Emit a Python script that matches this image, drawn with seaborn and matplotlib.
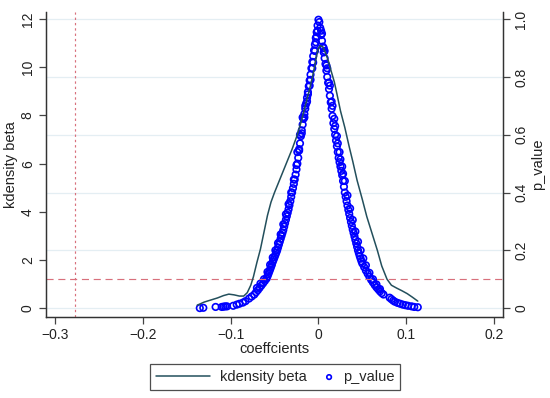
import numpy as np
import pandas as pd
import matplotlib
matplotlib.use('Agg')
import matplotlib.pyplot as plt
import seaborn as sns
from matplotlib.legend_handler import HandlerPathCollection

# kdensity beta (koefisyan, dansite)
kd_beta = [-0.138, -0.130, -0.123, -0.115, -0.108, -0.102, -0.096, -0.090, -0.085, -0.081,
           -0.077, -0.074, -0.070, -0.066, -0.062, -0.058, -0.054, -0.050, -0.045, -0.040,
           -0.035, -0.030, -0.025, -0.020, -0.015, -0.010, -0.005, -0.002, 0.000, 0.002,
           0.005, 0.008, 0.011, 0.014, 0.018, 0.021, 0.025, 0.030, 0.035, 0.039,
           0.044, 0.050, 0.055, 0.061, 0.067, 0.072, 0.078, 0.083, 0.089, 0.095,
           0.101, 0.107, 0.113]
kd_dens = [0.12, 0.25, 0.33, 0.42, 0.52, 0.58, 0.55, 0.50, 0.50, 0.64,
           0.95, 1.30, 1.90, 2.45, 3.15, 3.85, 4.40, 4.80, 5.25, 5.70,
           6.15, 6.60, 7.10, 7.70, 8.40, 9.10, 9.90, 10.5, 10.8, 10.9,
           10.85, 10.6, 10.3, 9.9, 9.4, 8.9, 8.2, 7.5, 6.7, 6.1,
           5.3, 4.5, 3.8, 3.1, 2.4, 1.75, 1.20, 0.95, 0.83, 0.72,
           0.60, 0.45, 0.29]

# p_value kote goch
left_beta = [-0.135, -0.131, -0.117, -0.110, -0.108, -0.106, -0.104, -0.097, -0.093, -0.090,
             -0.086, -0.083, -0.079, -0.076, -0.073, -0.071, -0.069, -0.067, -0.065, -0.063,
             -0.061, -0.059, -0.058, -0.057, -0.056, -0.055, -0.054, -0.053, -0.052, -0.051,
             -0.050, -0.049, -0.048, -0.047, -0.046, -0.045, -0.044, -0.043, -0.042, -0.041,
             -0.040, -0.039, -0.038, -0.037, -0.036, -0.035, -0.034, -0.033, -0.032, -0.031,
             -0.030, -0.029, -0.028, -0.027, -0.026, -0.025, -0.024, -0.023, -0.022, -0.021,
             -0.020, -0.019, -0.018, -0.017, -0.016, -0.015, -0.014, -0.013, -0.012, -0.011,
             -0.010, -0.009, -0.008, -0.007, -0.006, -0.005, -0.004, -0.003, -0.002, -0.001,
             0.000]
left_p = [0.000, 0.001, 0.004, 0.004, 0.005, 0.006, 0.006, 0.008, 0.012, 0.015,
          0.019, 0.024, 0.033, 0.040, 0.047, 0.055, 0.062, 0.070, 0.078, 0.086,
          0.094, 0.102, 0.110, 0.118, 0.126, 0.134, 0.142, 0.150, 0.160, 0.168,
          0.176, 0.184, 0.192, 0.200, 0.210, 0.220, 0.230, 0.240, 0.250, 0.260,
          0.270, 0.282, 0.294, 0.306, 0.318, 0.330, 0.342, 0.356, 0.370, 0.385,
          0.400, 0.415, 0.430, 0.445, 0.462, 0.480, 0.500, 0.520, 0.545, 0.570,
          0.595, 0.615, 0.635, 0.655, 0.672, 0.690, 0.708, 0.728, 0.748, 0.768,
          0.788, 0.808, 0.830, 0.852, 0.872, 0.892, 0.912, 0.935, 0.955, 0.978,
          0.998]
left_beta2 = [-0.070, -0.066, -0.062, -0.058, -0.055, -0.052, -0.049, -0.046, -0.043, -0.040,
              -0.037, -0.034, -0.031, -0.028, -0.025, -0.022, -0.019, -0.016, -0.013, -0.010,
              -0.007, -0.004, -0.002]
left_p2 = [0.070, 0.085, 0.100, 0.125, 0.150, 0.175, 0.200, 0.225, 0.255, 0.290,
           0.325, 0.360, 0.400, 0.445, 0.495, 0.550, 0.605, 0.660, 0.715, 0.770,
           0.830, 0.890, 0.940]
left_beta3 = [-0.024, -0.021, -0.018, -0.015, -0.012, -0.009, -0.006, -0.003, -0.001]
left_p3 = [0.540, 0.600, 0.660, 0.700, 0.740, 0.790, 0.850, 0.920, 0.960]

# p_value kote dwat
right_beta = [0.001, 0.002, 0.003, 0.004, 0.005, 0.006, 0.007, 0.008, 0.009, 0.010,
              0.011, 0.012, 0.013, 0.014, 0.015, 0.016, 0.017, 0.018, 0.019, 0.020,
              0.021, 0.022, 0.023, 0.024, 0.025, 0.026, 0.027, 0.028, 0.029, 0.030,
              0.031, 0.032, 0.033, 0.034, 0.035, 0.036, 0.037, 0.038, 0.039, 0.040,
              0.041, 0.042, 0.043, 0.044, 0.045, 0.046, 0.047, 0.048, 0.049, 0.050,
              0.052, 0.054, 0.056, 0.058, 0.060, 0.062, 0.064, 0.066, 0.068, 0.070,
              0.072, 0.074, 0.081, 0.083, 0.085, 0.087, 0.090, 0.093, 0.096, 0.099,
              0.102, 0.106, 0.109, 0.113]
right_p = [0.990, 0.970, 0.945, 0.925, 0.905, 0.885, 0.865, 0.845, 0.822, 0.800,
           0.780, 0.758, 0.735, 0.712, 0.690, 0.665, 0.640, 0.620, 0.600, 0.580,
           0.560, 0.540, 0.520, 0.505, 0.490, 0.475, 0.460, 0.440, 0.420, 0.400,
           0.385, 0.370, 0.355, 0.340, 0.326, 0.312, 0.298, 0.285, 0.272, 0.260,
           0.248, 0.236, 0.224, 0.212, 0.200, 0.190, 0.180, 0.171, 0.162, 0.154,
           0.142, 0.130, 0.119, 0.108, 0.098, 0.089, 0.080, 0.072, 0.065, 0.058,
           0.052, 0.047, 0.036, 0.031, 0.026, 0.022, 0.018, 0.015, 0.012, 0.010,
           0.008, 0.006, 0.004, 0.003]
right_beta2 = [0.003, 0.006, 0.009, 0.012, 0.015, 0.018, 0.021, 0.024, 0.027, 0.030,
               0.033, 0.036, 0.039, 0.042, 0.045, 0.048, 0.051, 0.054, 0.058, 0.062,
               0.066, 0.070]
right_p2 = [0.960, 0.900, 0.840, 0.780, 0.715, 0.655, 0.595, 0.540, 0.490, 0.440,
            0.390, 0.345, 0.305, 0.265, 0.230, 0.200, 0.172, 0.148, 0.122, 0.100,
            0.082, 0.066]
right_beta3 = [0.004, 0.007, 0.010, 0.013, 0.016, 0.019, 0.022, 0.025, 0.028]
right_p3 = [0.950, 0.890, 0.830, 0.770, 0.700, 0.630, 0.570, 0.515, 0.465]

p_beta = left_beta + left_beta2 + left_beta3 + right_beta + right_beta2 + right_beta3
p_vals = left_p + left_p2 + left_p3 + right_p + right_p2 + right_p3

kd = pd.DataFrame({'beta': kd_beta, 'dens': kd_dens})
pv = pd.DataFrame({'beta': p_beta, 'p': p_vals})


# mak lejand lan kole sou tèks la (bò dwat bwat la)
class RightMarker(HandlerPathCollection):
    def get_xdata(self, legend, xdescent, ydescent, width, height, fontsize):
        x = -xdescent + width - 0.25 * fontsize
        return [x], [x]


sns.set_style('white')
plt.rcParams['font.family'] = ['Liberation Sans', 'DejaVu Sans']

fig = plt.figure(figsize=(5.5, 3.98), dpi=100)
ax = fig.add_axes([0.0836, 0.2035, 0.831, 0.7665])
ax2 = ax.twinx()

# griy yo swiv aks dwat la
for g in [0, 0.2, 0.4, 0.6, 0.8, 1.0]:
    ax2.axhline(g, color='#e4eef3', lw=0.9, zorder=0)

sns.lineplot(data=kd, x='beta', y='dens', ax=ax, color='#234f5c', lw=1.1,
             label='kdensity beta', legend=False)
sns.scatterplot(data=pv, x='beta', y='p', ax=ax2, marker='o', s=22,
                facecolors='none', edgecolor='#0000ff', linewidth=1.2,
                label='p_value', legend=False)

ax2.axhline(0.1, color='#d8707c', lw=0.85, ls=(0, (6, 4)))
ax2.axvline(-0.277, color='#d8707c', lw=0.85, ls=(0, (2, 2.5)))

ax.set_xlim(-0.31, 0.21)
ax.set_ylim(-0.37, 12.3)
ax2.set_ylim(-0.37 / 12, 12.3 / 12)
ax.set_zorder(ax2.get_zorder() + 1)
ax.patch.set_visible(False)

ax.set_xticks([-0.3, -0.2, -0.1, 0, 0.1, 0.2])
ax.set_xticklabels(['\u22120.3', '\u22120.2', '\u22120.1', '0', '0.1', '0.2'])
ax.set_yticks([0, 2, 4, 6, 8, 10, 12])
ax.set_yticklabels(['0', '2', '4', '6', '8', '10', '12'], rotation=90, va='center')
ax2.set_yticks([0, 0.2, 0.4, 0.6, 0.8, 1.0])
ax2.set_yticklabels(['0', '0.2', '0.4', '0.6', '0.8', '1.0'], rotation=90, va='center')

for a in (ax, ax2):
    a.tick_params(direction='out', length=5, width=0.9, color='#444444',
                  labelsize=10, labelcolor='#222222', pad=3)
    a.spines['top'].set_visible(False)
    for s in ('left', 'right', 'bottom'):
        a.spines[s].set_color('#333333')
        a.spines[s].set_linewidth(0.9)
ax.tick_params(axis='y', left=True)
ax.tick_params(axis='x', bottom=True)
ax2.tick_params(axis='y', right=True)

ax.set_xlabel('coeffcients', fontsize=10.5, color='#222222', labelpad=0)
ax.set_ylabel('kdensity beta', fontsize=10.5, color='#222222', labelpad=2)
ax2.set_ylabel('p_value', fontsize=10.5, color='#222222', labelpad=2)

h1, l1 = ax.get_legend_handles_labels()
h2, l2 = ax2.get_legend_handles_labels()
leg = fig.legend(h1 + h2, l1 + l2, loc='center', bbox_to_anchor=(0.5, 0.053),
                 ncol=2, frameon=True, fancybox=False, fontsize=10.5,
                 handlelength=3.7, handletextpad=0.7, columnspacing=-1.9,
                 borderpad=0.4, markerscale=0.7,
                 handler_map={h2[0]: RightMarker()})
leg.get_frame().set_edgecolor('#222222')
leg.get_frame().set_linewidth(0.9)

fig.savefig('out.png', dpi=100)
